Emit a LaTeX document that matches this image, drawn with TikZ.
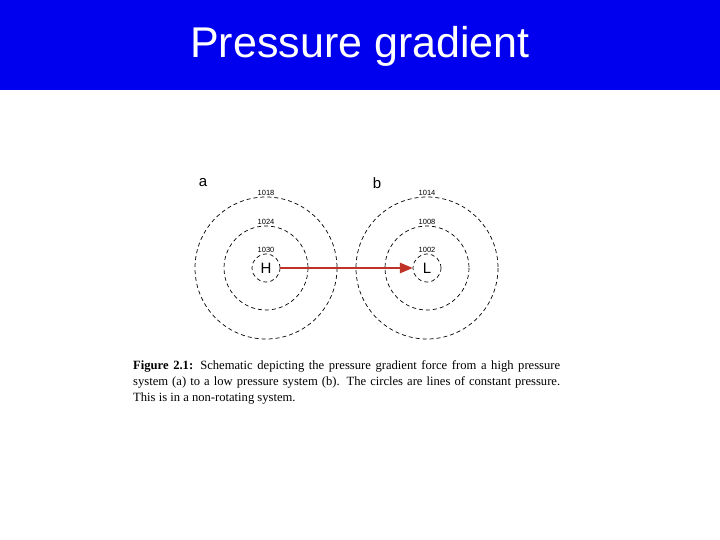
\documentclass[tikz,border=0pt]{standalone}
\usepackage{fontspec}
\setmainfont{Liberation Serif}
\newfontfamily\arialfont{Liberation Sans}
\usetikzlibrary{arrows}
\definecolor{bannerblue}{RGB}{0,0,238}
\definecolor{arrowred}{RGB}{190,50,40}
\tikzstyle{isobar} = [dash pattern=on 4pt off 3pt,line width=0.7pt]
\tikzstyle{isolabel} = [font=\arialfont\fontsize{7.5}{8}\selectfont,anchor=south,inner sep=1pt]
\tikzstyle{arrow} = [line width=2pt,arrowred,-triangle 45]

\begin{document}
\begin{tikzpicture}[x=1pt,y=-1pt]
        \useasboundingbox (0,0) rectangle (720,540);

        %title banner
        \fill [bannerblue] (0,0) rectangle (720,90);
        \node at (360,46) [text=white,font=\arialfont\fontsize{43}{48}\selectfont] (title) {Pressure gradient};

        %high pressure system
        \node at (266,268) [circle,isobar,draw,minimum size=28pt,inner sep=0pt,font=\arialfont\fontsize{15}{16}\selectfont] (H) {H};
        \draw [isobar] (266,268) circle (42);
        \draw [isobar] (266,268) circle (71);
        \node at (266,254) [isolabel] (p1030) {1030};
        \node at (266,226) [isolabel] (p1024) {1024};
        \node at (266,197) [isolabel] (p1018) {1018};
        \node at (203,183) [font=\arialfont\fontsize{15}{16}\selectfont] (a) {a};

        %low pressure system
        \node at (427,268) [circle,isobar,draw,minimum size=28pt,inner sep=0pt,font=\arialfont\fontsize{15}{16}\selectfont] (L) {L};
        \draw [isobar] (427,268) circle (42);
        \draw [isobar] (427,268) circle (71);
        \node at (427,254) [isolabel] (p1002) {1002};
        \node at (427,226) [isolabel] (p1008) {1008};
        \node at (427,197) [isolabel] (p1014) {1014};
        \node at (377,183) [font=\arialfont\fontsize{15}{16}\selectfont] (b) {b};

        \draw [arrow] (H) -- (L);

        %caption
        \node at (133,360) [anchor=north west,text width=427pt,align=justify,inner sep=0pt,font=\fontsize{12.6}{16}\selectfont] (caption) {\textbf{Figure 2.1:} Schematic depicting the pressure gradient force from a high pressure\linebreak system (a) to a low pressure system (b). The circles are lines of constant pressure.\linebreak This is in a non-rotating system.};

    \end{tikzpicture}
\end{document}
